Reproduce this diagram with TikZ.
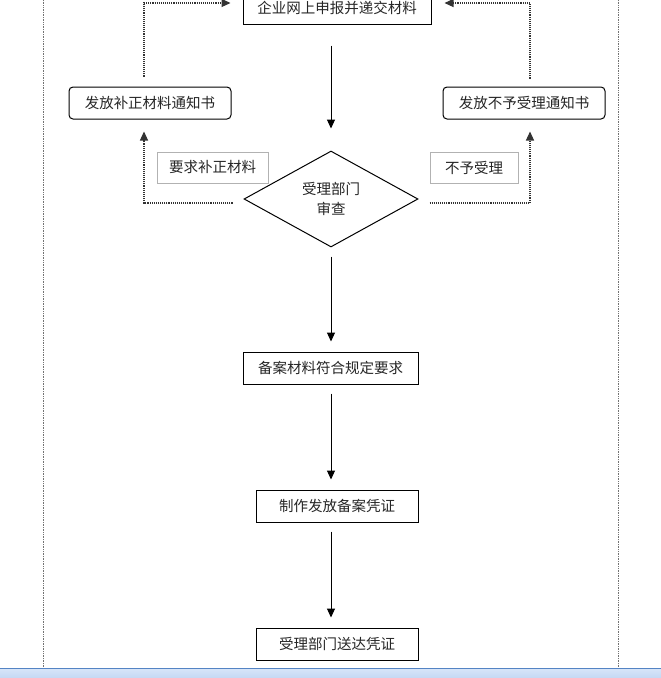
\documentclass[tikz,border=0pt]{standalone}
\usepackage{fontspec}
\newfontfamily\cjk{Noto Sans CJK SC}
\usetikzlibrary{arrows.meta,shapes.geometric}
\definecolor{barline}{RGB}{84,132,196}
\definecolor{bartop}{RGB}{214,228,248}
\definecolor{barbottom}{RGB}{196,216,244}
\tikzset{
  box/.style={draw=black,line width=1pt,inner sep=0pt,minimum height=32pt},
  roundbox/.style={box,rounded corners=4pt,minimum width=162pt},
  labelbox/.style={draw=black!30,line width=0.8pt,inner sep=0pt,minimum height=31pt},
  decision/.style={diamond,draw=black,line width=1pt,inner sep=0pt,
    minimum width=174pt,minimum height=96pt,align=center},
  flow/.style={line width=1pt,-{Triangle[length=9pt,width=8pt]}},
  feedback/.style={densely dotted,line width=1.1pt,black!80,
    -{Triangle[length=9pt,width=8pt]}},
  pageline/.style={densely dotted,line width=0.7pt,black!55},
  every node/.style={font=\cjk\fontsize{14.5}{20}\selectfont,text=black!85}
}
\begin{document}
\begin{tikzpicture}[x=1pt,y=-1pt]
  \clip (0,0) rectangle (661,678);
  \fill[white] (0,0) rectangle (661,678);
  % page frame
  \draw[pageline] (43,0) -- (43,668);
  \draw[pageline] (618,0) -- (618,668);
  \shade[top color=bartop,bottom color=barbottom] (0,669) rectangle (661,678);
  \draw[line width=1.2pt,barline] (0,668.6) -- (661,668.6);
  % nodes
  \node[box,minimum width=188pt] (submit) at (337,8) {企业网上申报并递交材料};
  \node[roundbox] (notifyfix) at (150,103) {发放补正材料通知书};
  \node[roundbox] (notifyno) at (524,103) {发放不予受理通知书};
  \node[labelbox,minimum width=111pt] (askfix) at (212.5,167.5) {要求补正材料};
  \node[labelbox,minimum width=88pt] (reject) at (474,167.5) {不予受理};
  \node[decision] (review) at (331,199) {受理部门\\审查};
  \node[box,minimum width=175pt] (conform) at (330.5,368) {备案材料符合规定要求};
  \node[box,minimum width=162pt] (issue) at (337,506) {制作发放备案凭证};
  \node[box,minimum width=162pt] (deliver) at (337,644) {受理部门送达凭证};
  % main flow
  \begin{scope}[shorten <=21pt,shorten >=22pt]
    \draw[flow] (submit.south -| review.north) -- (review.north);
  \end{scope}
  \begin{scope}[shorten <=9pt,shorten >=10pt]
    \draw[flow] (review.south) -- (conform.north -| review.south);
    \draw[flow] (conform.south -| review.south) -- (issue.north -| review.south);
    \draw[flow] (issue.south -| review.south) -- (deliver.north -| review.south);
  \end{scope}
  % feedback loops
  \draw[feedback,shorten >=12pt]
    ([xshift=-11pt,yshift=-4pt]review.west) -| ([xshift=-6pt]notifyfix.south);
  \draw[feedback,shorten >=12pt]
    ([xshift=11pt,yshift=-4pt]review.east) -| ([xshift=6pt]notifyno.south);
  \draw[feedback,shorten >=12pt]
    ([xshift=-6pt,yshift=10pt]notifyfix.north) |- ([yshift=5pt]submit.west);
  \draw[feedback,shorten >=13pt]
    ([xshift=6pt,yshift=8pt]notifyno.north) |- ([yshift=5pt]submit.east);
\end{tikzpicture}
\end{document}
